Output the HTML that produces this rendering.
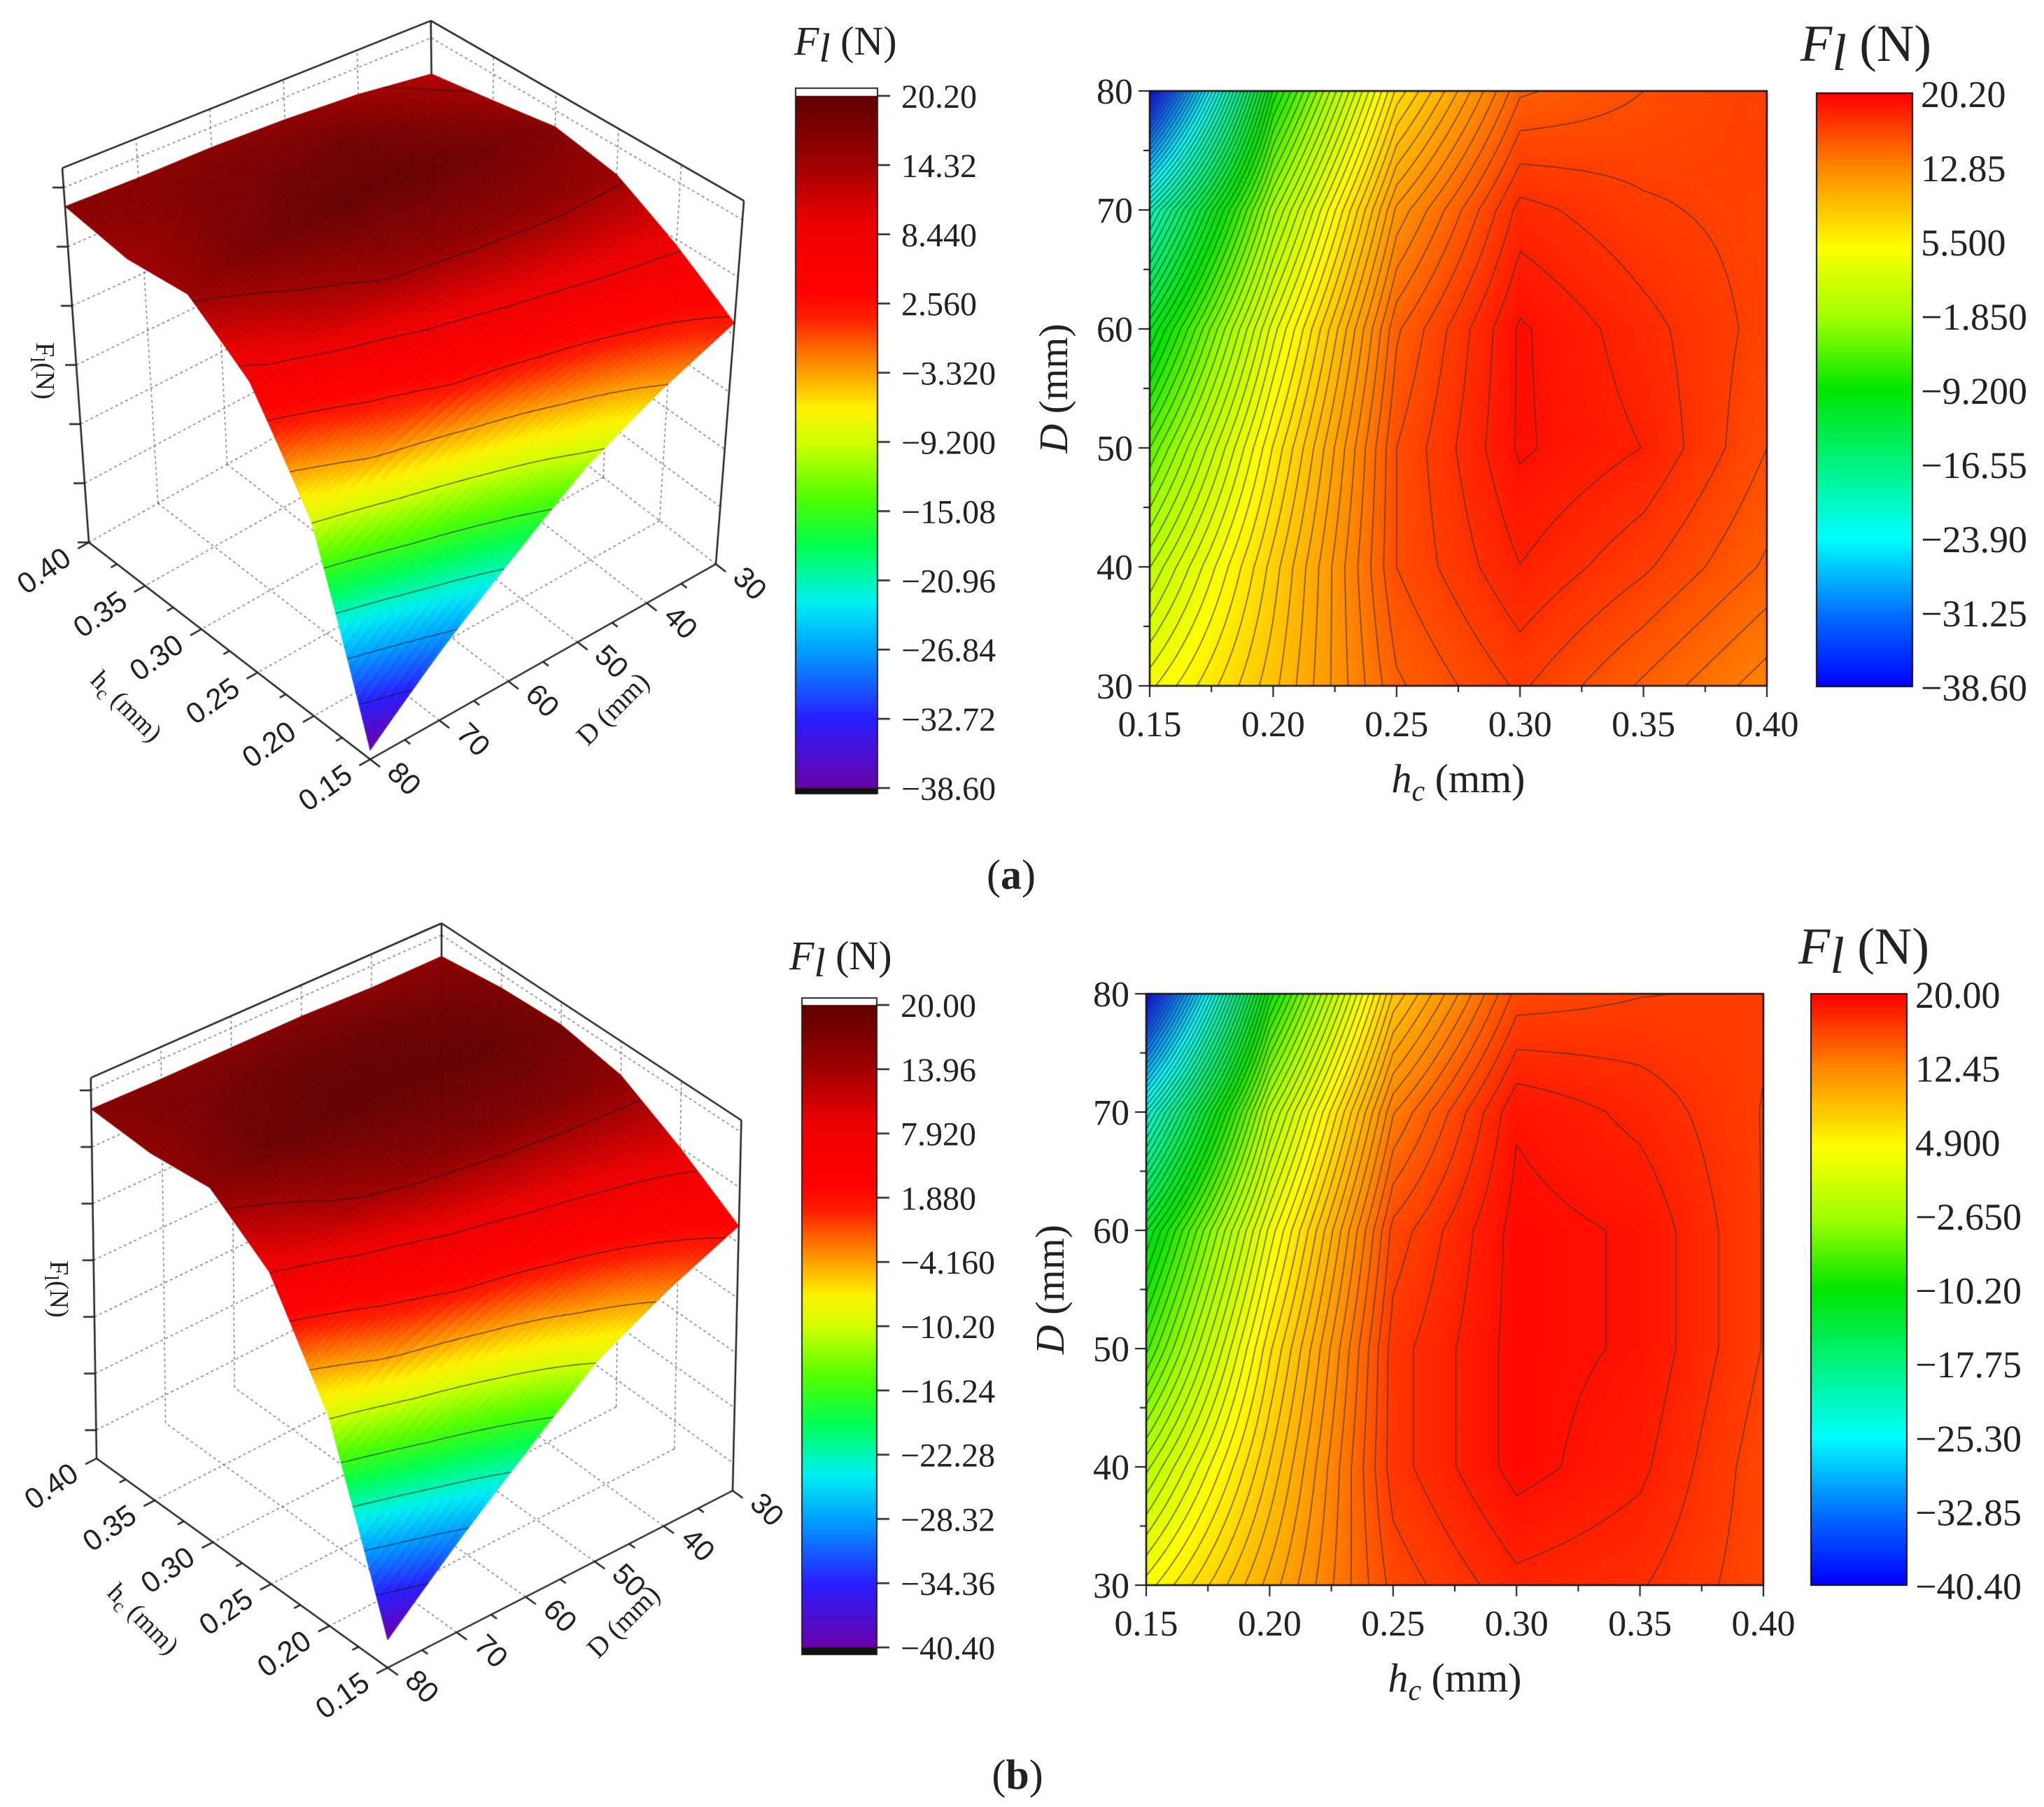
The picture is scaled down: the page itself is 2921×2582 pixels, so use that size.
<!DOCTYPE html>
<html><head><meta charset="utf-8">
<style>
html,body{margin:0;padding:0;background:#fff;}
#wrap{position:relative;width:2921px;height:2582px;overflow:hidden;font-family:"Liberation Serif",serif;}
canvas,svg{position:absolute;left:0;top:0;}
</style></head>
<body>
<div id="wrap">
<canvas id="cv" width="2921" height="2582"></canvas>
<svg id="sv" width="2921" height="2582" xmlns="http://www.w3.org/2000/svg"></svg>
</div>
<script>
// ---- data ----
const hcVals=[0.15,0.20,0.25,0.30,0.35,0.40];
const dVals=[30,40,50,60,70,80];
// contour-plot grids (rows: D = 30..80, cols: hc = 0.15..0.40)
const gridA=[
 [4,9,15,17,15,13],
 [0,8,16,18.5,17,15],
 [-5,6,16,19.5,18.5,16],
 [-11,3,15,19.5,18,16.5],
 [-20,-2,12,18,17,16.5],
 [-38.6,-9,7,15,16,16.8]];
const gridB=[
 [4,10,16,18,17.5,16],
 [-1,8,17,19.5,18.5,16],
 [-7,6,17,19.5,19,16.5],
 [-12,3,16,19.5,19,16.5],
 [-23,-2,13,19,18,16.5],
 [-40.4,-10,8,16,16.5,16.7]];
// 3D-surface grids (as seen in the surface views)
const surfA=[
 [2,9,15,17,15,13],
 [-4,8,16,18.5,17,15],
 [-11,6,16,19.5,18.5,16],
 [-20,3,15,19.5,18,16.5],
 [-29,-2,12,18,17,16.5],
 [-38.6,-9,7,15,14.5,16.8]];
const surfB=[
 [3,10,16,18,17.5,16],
 [-3,8,17,19.5,18.5,16],
 [-10,6,17,19.5,19,16.5],
 [-20,3,16,19.5,19,16.5],
 [-30,-2,13,19,18,16.5],
 [-40.4,-10,8,16,15.5,16.7]];
const cb3dA=["20.20","14.32","8.440","2.560","\u22123.320","\u22129.200","\u221215.08","\u221220.96","\u221226.84","\u221232.72","\u221238.60"];
const cb3dB=["20.00","13.96","7.920","1.880","\u22124.160","\u221210.20","\u221216.24","\u221222.28","\u221228.32","\u221234.36","\u221240.40"];
const cbCA=["20.20","12.85","5.500","\u22121.850","\u22129.200","\u221216.55","\u221223.90","\u221231.25","\u221238.60"];
const cbCB=["20.00","12.45","4.900","\u22122.650","\u221210.20","\u221217.75","\u221225.30","\u221232.85","\u221240.40"];
const hcTicks=["0.15","0.20","0.25","0.30","0.35","0.40"];
const dTicks=["30","40","50","60","70","80"];
const rangeA=[-38.6,20.2], rangeB=[-40.4,20.0];

const map3d=[[0,106,0,168],[0.1,40,30,255],[0.2,0,160,255],[0.27,0,240,240],[0.35,0,255,80],[0.42,80,255,0],[0.5,210,255,0],[0.55,255,240,0],[0.62,255,130,0],[0.68,255,30,0],[0.72,255,0,0],[0.82,235,0,0],[0.9,160,0,0],[1,95,0,0]];
const mapC=[[0,0,0,255],[0.12,0,110,255],[0.25,0,255,255],[0.5,0,230,0],[0.62,160,255,0],[0.74,255,255,0],[0.87,255,140,0],[1,255,0,0]];

const cv=document.getElementById('cv'),ctx=cv.getContext('2d');
const sv=document.getElementById('sv');
const NS='http://www.w3.org/2000/svg';

function cmap(m,t){t=Math.max(0,Math.min(1,t));for(let i=1;i<m.length;i++){if(t<=m[i][0]){const a=m[i-1],b=m[i],f=(t-a[0])/(b[0]-a[0]||1);return [a[1]+f*(b[1]-a[1]),a[2]+f*(b[2]-a[2]),a[3]+f*(b[3]-a[3])];}}const l=m[m.length-1];return [l[1],l[2],l[3]];}
function val(g,u,v){
 const n=hcVals.length-1,m=dVals.length-1;
 u=Math.max(0,Math.min(n,u));v=Math.max(0,Math.min(m,v));
 let i=Math.min(n-1,Math.floor(u)),j=Math.min(m-1,Math.floor(v));const fu=u-i,fv=v-j;
 return g[j][i]*(1-fu)*(1-fv)+g[j][i+1]*fu*(1-fv)+g[j+1][i]*(1-fu)*fv+g[j+1][i+1]*fu*fv;}
function txt(segs,x,y,o){const t=document.createElementNS(NS,'text');t.setAttribute('x',x);t.setAttribute('y',y);
 t.setAttribute('font-family',o.ff||'Liberation Serif, serif');t.setAttribute('font-size',o.fs||48);
 if(o.anchor)t.setAttribute('text-anchor',o.anchor);if(o.rot!==undefined)t.setAttribute('transform','rotate('+o.rot+' '+x+' '+y+')');
 t.setAttribute('fill','#222');
 if(typeof segs==='string')segs=[[segs,{}]];
 segs.forEach(([s,at])=>{const ts=document.createElementNS(NS,'tspan');for(const k in at)ts.setAttribute(k,at[k]);ts.textContent=s;t.appendChild(ts);});
 
 
 sv.appendChild(t);return t;}
function line(x1,y1,x2,y2,w,c,dash){ctx.beginPath();ctx.moveTo(x1,y1);ctx.lineTo(x2,y2);ctx.lineWidth=w;ctx.strokeStyle=c;ctx.setLineDash(dash||[]);ctx.stroke();ctx.setLineDash([]);}

function contourSegs(g,level,N,cb){
 const n=hcVals.length-1,m=dVals.length-1;
 for(let a=0;a<N;a++)for(let b=0;b<N;b++){
  const u0=a/N*n,u1=(a+1)/N*n,v0=b/N*m,v1=(b+1)/N*m;
  const c=[[u0,v0,val(g,u0,v0)],[u1,v0,val(g,u1,v0)],[u1,v1,val(g,u1,v1)],[u0,v1,val(g,u0,v1)]];
  const pts=[];
  for(let k=0;k<4;k++){const p=c[k],q=c[(k+1)%4];
   if((p[2]-level)*(q[2]-level)<0){const f=(level-p[2])/(q[2]-p[2]);pts.push([p[0]+f*(q[0]-p[0]),p[1]+f*(q[1]-p[1])]);}}
  if(pts.length>=2)cb(pts[0],pts[1]);if(pts.length==4)cb(pts[2],pts[3]);
 }}
const FLN=(fs)=>[['F',{'font-style':'italic'}],['l',{'font-style':'italic',dy:Math.round(fs*0.18)}],[' (N)',{dy:-Math.round(fs*0.18)}]];

function contourPanel(g,range,ticks,P){
 const {x0,y0,w,h,cbx,cbw,cby,cbh}=P;
 const n=hcVals.length-1,m=dVals.length-1;
 const img=ctx.createImageData(w,h);
 for(let py=0;py<h;py++)for(let px=0;px<w;px++){
  const z=val(g,px/(w-1)*n,(1-py/(h-1))*m);
  const c=cmap(mapC,(z-range[0])/(range[1]-range[0]));const k=(py*w+px)*4;
  img.data[k]=c[0];img.data[k+1]=c[1];img.data[k+2]=c[2];img.data[k+3]=255;}
 ctx.putImageData(img,x0,y0);
 const step=(range[1]-range[0])/70;
 ctx.lineWidth=1.6;ctx.strokeStyle='rgba(70,50,40,0.75)';ctx.beginPath();
 for(let L=range[0]+step;L<range[1];L+=step){
  contourSegs(g,L,120,(p,q)=>{ctx.moveTo(x0+p[0]/n*w,y0+h-p[1]/m*h);ctx.lineTo(x0+q[0]/n*w,y0+h-q[1]/m*h);});}
 ctx.stroke();
 ctx.lineWidth=2.5;ctx.strokeStyle='#111';ctx.strokeRect(x0,y0,w,h);
 for(let i=0;i<=2*n;i++){const x=x0+i/(2*n)*w;line(x,y0+h,x,y0+h+(i%2?9:16),2,'#111');}
 for(let j=0;j<=2*m;j++){const y=y0+h-j/(2*m)*h;line(x0,y,x0-(j%2?9:16),y,2,'#111');}
 hcTicks.forEach((s,i)=>txt(s,x0+i/n*w,y0+h+72,{fs:52,anchor:'middle',name:'x-tick-label'}));
 dTicks.forEach((s,j)=>txt(s,x0-24,y0+h-j/m*h+18,{fs:52,anchor:'end',name:'y-tick-label'}));
 txt([['h',{'font-style':'italic'}],['c',{'font-style':'italic','font-size':42,dy:12}],[' (mm)',{dy:-12}]],x0+w/2,y0+h+152,{fs:58,anchor:'middle',name:'x-axis-title'});
 txt([['D',{'font-style':'italic'}],[' (mm)',{}]],x0-118,y0+h/2,{fs:58,anchor:'middle',rot:-90,name:'y-axis-title'});
 for(let y=0;y<cbh;y++){const c=cmap(mapC,1-y/(cbh-1));ctx.fillStyle='rgb('+c.map(Math.round).join(',')+')';ctx.fillRect(cbx,cby+y,cbw,1);}
 ctx.lineWidth=2;ctx.strokeStyle='#111';ctx.strokeRect(cbx,cby,cbw,cbh);
 ticks.forEach((s,i)=>txt(s,cbx+cbw+12,cby+i/(ticks.length-1)*cbh+20,{fs:54,name:'colorbar-tick-label'}));
 txt(FLN(74),P.tx,P.ty,{fs:74,name:'colorbar-title'});
}

function surfPanel(g,range,ticks,P){
 const {A,B,C,HA,HB,HC,HK,LA,LB,LC,LK,zmin,zmax,ztop}=P;
 const K=[A[0]+C[0]-B[0],A[1]+C[1]-B[1]];
 function pr(u,v,z){
  const wC=(1-u)*(1-v),wK=u*(1-v),wA=u*v,wB=(1-u)*v;
  const fx=wC*C[0]+wK*K[0]+wA*A[0]+wB*B[0];
  const fy=wC*C[1]+wK*K[1]+wA*A[1]+wB*B[1];
  const H=wC*HC+wK*HK+wA*HA+wB*HB;
  const Ln=wC*LC+wK*LK+wA*LA+wB*LB;
  const f=(z-zmin)/(zmax-zmin);
  return [fx+f*Ln,fy-f*H];}
 const zt=[];for(let z=20;z>=zmin-0.01;z-=10)zt.push(z);
 const dot='rgba(90,90,90,0.8)';
 zt.forEach(z=>{let p=pr(1,1,z),q=pr(1,0,z),r=pr(0,0,z);line(p[0],p[1],q[0],q[1],1.5,dot,[4,4]);line(q[0],q[1],r[0],r[1],1.5,dot,[4,4]);});
 for(let i=1;i<5;i++){const t=i/5;
  let p=pr(1,t,zmin),q=pr(1,t,ztop);line(p[0],p[1],q[0],q[1],1.5,dot,[4,4]);
  p=pr(t,0,zmin);q=pr(t,0,ztop);line(p[0],p[1],q[0],q[1],1.5,dot,[4,4]);
  p=pr(t,0,zmin);q=pr(t,1,zmin);line(p[0],p[1],q[0],q[1],1.5,dot,[4,4]);
  p=pr(0,t,zmin);q=pr(1,t,zmin);line(p[0],p[1],q[0],q[1],1.5,dot,[4,4]);}
 let p,q;
 p=pr(1,0,zmin);q=pr(1,0,ztop);line(p[0],p[1],q[0],q[1],2.5,'#222');
 p=pr(1,1,ztop);q=pr(1,0,ztop);line(p[0],p[1],q[0],q[1],2.5,'#222');
 p=pr(0,0,ztop);line(q[0],q[1],p[0],p[1],2.5,'#222');
 const N=110,n=hcVals.length-1,m=dVals.length-1,cells=[];
 for(let a=0;a<N;a++)for(let b=0;b<N;b++)cells.push([a,b]);
 cells.sort((c1,c2)=>(c2[0]-c2[1])-(c1[0]-c1[1]));
 const Z=(u,v)=>val(g,u*n,v*m);
 cells.forEach(([a,b])=>{const u0=a/N,u1=(a+1)/N,v0=b/N,v1=(b+1)/N;
  const zs=[Z(u0,v0),Z(u1,v0),Z(u1,v1),Z(u0,v1)];
  const pts=[pr(u0,v0,zs[0]),pr(u1,v0,zs[1]),pr(u1,v1,zs[2]),pr(u0,v1,zs[3])];
  const zc=(zs[0]+zs[1]+zs[2]+zs[3])/4;const c=cmap(map3d,(zc-range[0])/(range[1]-range[0]));
  const col='rgb('+c.map(Math.round).join(',')+')';
  ctx.beginPath();ctx.moveTo(pts[0][0],pts[0][1]);for(let k=1;k<4;k++)ctx.lineTo(pts[k][0],pts[k][1]);ctx.closePath();
  ctx.fillStyle=col;ctx.fill();ctx.lineWidth=0.8;ctx.strokeStyle=col;ctx.stroke();});
 ctx.beginPath();ctx.lineWidth=1.3;ctx.strokeStyle='rgba(20,20,20,0.7)';
 const st=(range[1]-range[0])/10;
 for(let i=1;i<10;i++){const L=range[0]+i*st;
  contourSegs(g,L,60,(s,t)=>{const a=pr(s[0]/n,s[1]/m,L),b=pr(t[0]/n,t[1]/m,L);ctx.moveTo(a[0],a[1]);ctx.lineTo(b[0],b[1]);});}
 ctx.stroke();
 p=pr(1,1,zmin);q=pr(1,1,ztop);line(p[0],p[1],q[0],q[1],2.5,'#222');
 p=pr(0,0,zmin);q=pr(0,0,ztop);line(p[0],p[1],q[0],q[1],2.5,'#222');
 p=pr(1,1,zmin);q=pr(0,1,zmin);line(p[0],p[1],q[0],q[1],2.5,'#222');
 p=pr(0,0,zmin);line(q[0],q[1],p[0],p[1],2.5,'#222');
 zt.forEach(z=>{const a=pr(1,1,z);line(a[0],a[1],a[0]-16,a[1],2.5,'#222');});
 const dh=[B[0]-C[0],B[1]-C[1]],lh=Math.hypot(dh[0],dh[1]);
 const dd=[B[0]-A[0],B[1]-A[1]],ld=Math.hypot(dd[0],dd[1]);
 for(let i=0;i<=10;i++){const a=pr(i/10,1,zmin),L=i%2?10:18;line(a[0],a[1],a[0]+dh[0]/lh*L,a[1]+dh[1]/lh*L,2.5,'#222');}
 for(let j=0;j<=10;j++){const a=pr(0,j/10,zmin),L=j%2?10:18;line(a[0],a[1],a[0]+dd[0]/ld*L,a[1]+dd[1]/ld*L,2.5,'#222');}
 const SANS='Liberation Sans, sans-serif';
 hcTicks.forEach((s,i)=>{const a=pr(i/n,1,zmin);
  txt(s,a[0]+dh[0]/lh*26,a[1]+dh[1]/lh*26+16,{fs:42,ff:SANS,anchor:'end',rot:-35,name:'hc-tick-label'});});
 dTicks.forEach((s,j)=>{const a=pr(0,j/m,zmin);
  txt(s,a[0]+dd[0]/ld*28,a[1]+dd[1]/ld*28+4,{fs:42,ff:SANS,anchor:'start',rot:45,name:'d-tick-label'});});
 txt([['h',{}],['c',{'font-size':28,dy:8}],[' (mm)',{dy:-8}]],P.hx,P.hy,{fs:38,anchor:'middle',rot:45,name:'hc-axis-title'});
 txt('D (mm)',P.dx,P.dy,{fs:40,anchor:'middle',rot:-45,name:'d-axis-title'});
 txt([['F',{}],['l',{'font-size':28,dy:8}],['(N)',{dy:-8}]],P.zx,P.zy,{fs:38,anchor:'middle',rot:90,name:'z-axis-title'});
 const {cbx,cbw,cby,cbh,t0,t1}=P;
 ctx.lineWidth=2;ctx.strokeStyle='#222';ctx.strokeRect(cbx,cby,cbw,cbh);
 for(let y=t0;y<=t1;y++){const c=cmap(map3d,1-(y-t0)/(t1-t0));ctx.fillStyle='rgb('+c.map(Math.round).join(',')+')';ctx.fillRect(cbx+1,y,cbw-2,1);}
 ctx.fillStyle='#111';ctx.fillRect(cbx+1,t1,cbw-2,cby+cbh-t1);
 ticks.forEach((s,i)=>{const y=t0+i/(ticks.length-1)*(t1-t0);line(cbx+cbw,y,cbx+cbw+18,y,2.5,'#222');
  txt(s,cbx+cbw+34,y+17,{fs:48,name:'colorbar-tick-label'});});
 txt(FLN(58),P.tx,P.ty,{fs:58,name:'colorbar-title'});
}

surfPanel(surfA,rangeA,cb3dA,{A:[127,775],B:[529,1085],C:[1023,806],HA:507,HB:545,HC:492,HK:442,LA:-36,LB:0,LC:38,LK:-5,zmin:-40,zmax:20,ztop:23.3,
 hx:172,hy:1018,dx:885,dy:1022,zx:52,zy:530,cbx:1137,cbw:117,cby:126,cbh:1008,t0:137,t1:1126,tx:1135,ty:78});
surfPanel(surfB,rangeB,cb3dB,{A:[138,2084],B:[554,2383],C:[1047,2130],HA:526,HB:560,HC:512,HK:495,LA:-8,LB:0,LC:12,LK:0,zmin:-45,zmax:20,ztop:22.2,
 hx:196,hy:2322,dx:900,dy:2326,zx:72,zy:1842,cbx:1146,cbw:107,cby:1426,cbh:938,t0:1436,t1:2354,tx:1128,ty:1385});
contourPanel(gridA,rangeA,cbCA,{x0:1643,y0:130,w:882,h:850,cbx:2596,cbw:137,cby:133,cbh:848,tx:2573,ty:87});
contourPanel(gridB,rangeB,cbCB,{x0:1638,y0:1420,w:882,h:845,cbx:2588,cbw:137,cby:1420,cbh:845,tx:2570,ty:1377});
txt([['(',{}],['a',{'font-weight':'bold'}],[')',{}]],1445,1270,{fs:60,anchor:'middle',name:'panel-label-a'});
txt([['(',{}],['b',{'font-weight':'bold'}],[')',{}]],1454,2556,{fs:60,anchor:'middle',name:'panel-label-b'});
</script>
</body></html>
